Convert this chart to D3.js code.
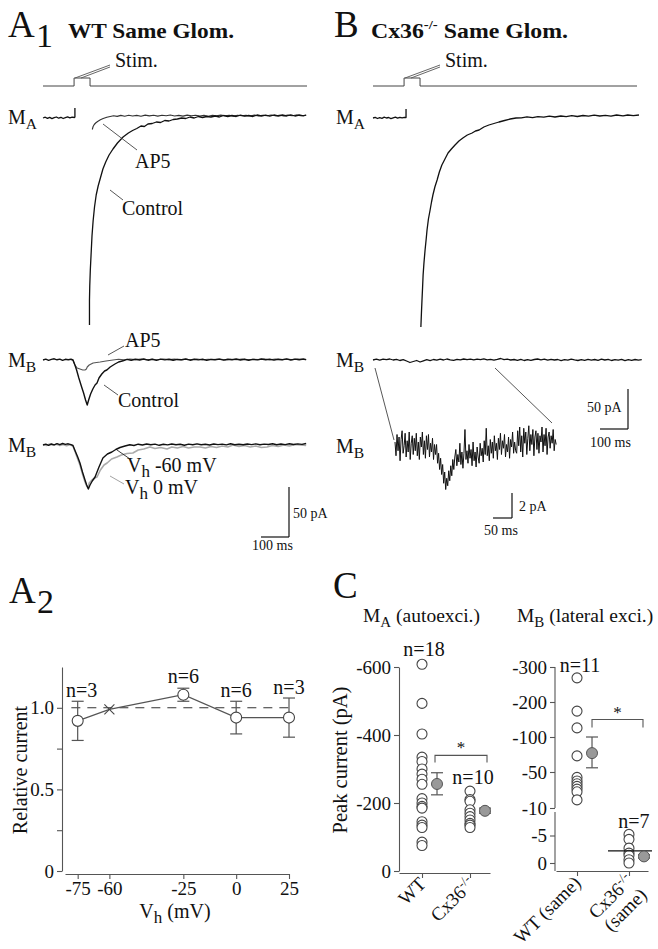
<!DOCTYPE html>
<html><head><meta charset="utf-8">
<script src="https://cdn.jsdelivr.net/npm/d3@7"></script>
<style>
html,body{margin:0;padding:0;background:#fff;}
svg{display:block;}
text{font-family:"Liberation Serif","Times New Roman",serif;fill:#111;}
</style></head>
<body>
<svg id="fig" width="658" height="949"></svg>
<script>
// ================= DATA =================
// Stimulus timing (ms, on/off)
const stimTrace = [[0,0],[111,0],[111,1],[168,1],[168,0],[943,0]];

// A1 M_A traces (ms, pA)
const a1MaPre = [[0,0],[8,0.8],[16,-0.4],[24,0.6],[32,-0.6],[40,0.3],[48,1],[56,-0.2],[64,0.7],[72,-0.5],[80,0.4],[88,1.1],[96,0.2],[104,0.9],[112,0.5],[114,1],[114,10]];
const a1MaControl = [[166,-207],[166,-182],[167,-168],[169,-152],[172,-135],[175,-118],[179,-103],[184,-89],[190,-77],[197,-68],[205,-60],[214,-51],[224,-44],[236,-37],[250,-31],[266,-25],[286,-19],[305,-15],[320,-12.5],[335,-10.5],[350,-8],[362,-8.5],[375,-6],[390,-5.5],[405,-4],[420,-4.5],[435,-2.5],[450,-3],[465,-1.5],[480,-1],[495,0],[510,-0.5],[525,1],[540,0],[555,1.5],[570,0.5],[585,1.5],[600,1],[615,2],[630,1],[645,2.5],[660,1.5],[675,2.5],[690,1.5],[705,2.8],[720,1.8],[735,2.5],[750,1.5],[765,3],[780,2],[795,2.8],[810,1.8],[825,3],[840,2],[855,3],[870,2],[885,3.2],[900,2],[915,3],[930,2.2],[940,3]];
const a1MaAP5 = [[176,-11.5],[179,-8.5],[183,-6.5],[188,-5],[195,-3.5],[205,-1.8],[215,-0.5],[228,0.8],[240,1.5],[252,2.2],[265,1.6],[278,2.6],[292,1.8],[306,2.8],[320,2],[335,2.6],[350,1.8],[365,2.9],[380,2.1],[395,2.7],[410,1.9],[425,2.8],[440,2.2],[455,3],[470,2],[485,2.6],[500,1.9],[515,2.9],[530,2.2],[545,2.8],[560,2],[575,2.6],[590,1.8],[605,2.7],[620,2.1],[635,2.9],[650,2.2],[665,2.7],[680,1.9],[695,2.8],[710,2.2],[725,2.6],[740,2],[755,2.9],[770,2.1],[785,2.7],[800,2.3],[815,3],[830,2.2],[845,2.8],[860,2.1],[875,2.9],[890,2.3],[905,3],[920,2.2],[940,2.8]];

// A1 M_B traces (ms, pA)
const a1MbControl = [[0,0],[10,0.8],[20,-0.3],[30,0.6],[40,1.2],[50,0.2],[60,0.9],[70,-0.4],[80,0.7],[90,0.3],[100,0.8],[107,0],[114,-5],[120,-10],[128,-18],[138,-27],[145,-33],[152,-40],[158,-45],[163,-40],[170,-34],[178,-29],[186,-25],[193,-23],[200,-18],[210,-14],[220,-11],[228,-10],[240,-7],[257,-4],[270,-2],[286,-0.8],[300,0.6],[315,-0.3],[330,0.8],[345,0],[360,1],[375,-0.2],[390,0.7],[405,-0.4],[420,0.9],[435,0.1],[450,0.8],[465,-0.3],[480,0.6],[495,0.2],[510,1],[525,-0.2],[540,0.8],[555,0.1],[570,0.7],[585,-0.4],[600,0.6],[615,0.2],[630,0.9],[645,-0.1],[660,0.7],[675,0.3],[690,1],[705,0],[720,0.8],[735,-0.2],[750,0.6],[765,0.1],[780,1],[795,0.3],[810,0.8],[825,-0.1],[840,0.7],[855,0.2],[870,1.1],[885,0],[900,0.9],[915,0.3],[930,1],[940,0.4]];
const a1MbAP5 = [[100,0.3],[107,0],[114,-5],[122,-8],[132,-9],[142,-10],[150,-10],[155,-9],[158,-7],[165,-5],[179,-3],[204,-2],[225,-1],[250,0],[270,0.8],[290,0.2],[310,1],[330,0.4],[350,0.9],[370,0.2],[390,0.8],[410,0.3],[430,1],[450,0.4],[470,0.9],[490,0.1],[510,0.8],[530,0.3],[550,1],[570,0.2],[590,0.7],[610,0.4],[630,1],[650,0.1],[670,0.8],[690,0.3],[710,0.9],[730,0.2],[750,0.8],[770,0.4],[790,1],[810,0.2],[830,0.9],[850,0.3],[870,0.8],[890,0.4],[910,1],[940,0.3]];

// A1 M_B at two holding potentials (ms, pA)
const a1MbVh60 = [[0,0],[10,0.8],[20,-0.4],[30,1],[40,0.2],[50,1.3],[60,0.3],[70,1.5],[80,0.6],[90,1.2],[100,0.4],[107,-0.5],[115,-6],[124,-12],[132,-18],[141,-27],[150,-35],[156,-40],[162,-44],[168,-40],[176,-36],[186,-32],[200,-22],[214,-13],[230,-9],[246,-7],[260,-4.5],[275,-2.5],[293,-1],[310,0.3],[325,-0.5],[340,0.8],[355,0],[370,1],[385,0.2],[400,0.9],[415,-0.3],[430,0.7],[445,0.1],[460,1],[475,0.3],[490,0.8],[505,-0.2],[520,0.9],[535,0.2],[550,1.1],[565,0.3],[580,0.8],[595,0],[610,1],[625,0.4],[640,0.9],[655,0.1],[670,1.2],[685,0.3],[700,0.8],[715,0.2],[730,1],[745,0.4],[760,1.1],[775,0.2],[790,0.9],[805,0.5],[820,1.2],[835,0.3],[850,1],[865,0.4],[880,1.3],[895,0.5],[910,1.1],[925,0.6],[940,1.5]];
const a1MbVh0 = [[0,0.5],[12,-0.5],[24,1],[36,-0.3],[48,0.8],[60,-0.5],[72,0.6],[84,-0.8],[96,0.3],[107,-1],[115,-7],[124,-14],[132,-20],[141,-29],[150,-37],[156,-41],[161,-43],[165,-38],[175,-35],[185,-33],[193,-32],[205,-25],[218,-20],[229,-18],[245,-14],[264,-12],[280,-10],[300,-8.5],[321,-8],[340,-5],[360,-4],[382,-2],[400,-3.5],[420,-2.5],[443,-4],[460,-2],[480,-3],[500,-1.5],[520,-3],[540,-2],[561,-2],[580,-3],[600,-1.5],[620,-2.5],[640,-1],[660,-2],[679,0],[700,-1.5],[720,-0.5],[740,-2],[760,-1],[780,-2.5],[800,-2],[820,-0.5],[840,-1.5],[860,0],[880,-1],[900,0.5],[918,0],[940,-0.5]];

// B traces (ms, pA)
const bMaPre = [[0,0],[8,0.6],[16,-0.5],[24,0.4],[32,-0.3],[40,0.8],[48,0],[56,0.5],[64,-0.6],[72,0.2],[80,0.9],[88,-0.1],[96,0.6],[104,0.1],[112,0.7],[118,0.5],[118,9]];
const bMa = [[171,-209],[173,-195],[175,-182],[177,-170],[179,-157],[182,-145],[186,-132],[190,-121],[193,-112],[198,-101],[204,-92],[209,-84],[214,-77],[221,-69],[229,-62],[237,-54],[246,-47],[257,-41],[268,-35],[280,-31],[293,-27],[307,-23],[321,-20],[337,-17],[354,-15],[366,-13],[379,-12],[396,-9],[414,-7],[432,-5.5],[450,-4],[470,-2.5],[490,-1],[511,0],[530,0.2],[550,1.2],[570,0.4],[589,1.3],[610,0.8],[630,1.8],[650,1],[671,2],[690,1.4],[710,2.4],[730,1.5],[750,2.5],[770,1.8],[790,2.8],[810,2],[830,2.6],[850,1.9],[870,3],[893,2.2],[910,3],[930,2.4],[950,3]];
const bMb = [[0,0],[12,0.8],[24,-0.2],[36,0.9],[48,0.3],[60,1],[72,0],[84,0.6],[96,-0.5],[108,0.4],[120,-1],[132,-2.5],[144,-1.5],[156,-0.5],[168,-2],[180,-0.8],[192,0.3],[204,-0.6],[216,0.5],[228,-0.2],[240,0.8],[252,0],[264,1],[276,0.2],[288,-0.4],[300,0.7],[312,0.1],[324,1],[336,0.3],[348,0.8],[360,0.1],[372,0.9],[384,0.4],[396,1.2],[408,0.2],[420,0.7],[432,-0.1],[444,0.6],[456,1.5],[468,0.3],[480,0.8],[492,0],[504,0.5],[516,-0.4],[528,0.6],[540,-0.5],[552,0.4],[564,-0.3],[576,0.5],[588,1],[600,0.2],[612,0.8],[624,-0.2],[636,0.7],[648,0],[660,0.5],[672,-0.6],[684,0.4],[696,-0.2],[708,0.8],[720,0.1],[732,-0.5],[744,0.3],[756,-0.4],[768,0.6],[780,-0.2],[792,0.5],[804,-0.3],[816,0.8],[828,0],[840,0.6],[852,-0.5],[864,0.3],[876,-0.2],[888,0.7],[900,-0.6],[912,0.4],[924,-0.3],[936,0.5],[948,-0.1],[960,0.3]];
// B inset, magnified M_B (pA), sampled every 2.67 ms
const insetDt = 2.67;
const bInset = [0.4,-0.7,1.0,-0.3,0.8,-1.1,0.6,1.3,-0.5,0.1,1.1,-0.8,0.5,-0.4,1.2,-1.0,0.3,0.9,-0.6,0.7,
 -0.3,1.1,-0.7,0.4,-1.0,0.8,0.0,1.2,-0.6,0.5,-0.9,0.9,-0.2,1.0,-0.8,0.3,-0.4,0.7,-1.0,0.2,
 -0.6,0.2,-1.3,-0.5,-1.8,-0.9,-2.2,-1.4,-2.9,-2.0,-3.4,-2.5,-3.1,-1.9,-2.7,-1.5,-2.3,-1.0,-1.8,-0.8,
 -0.2,-1.5,-0.6,-1.2,0.3,-1.4,-0.4,-1.7,-0.5,1.4,-1.0,-0.3,-1.3,0.2,-0.9,-0.2,-1.5,0.4,-1.1,-0.4,
 -1.6,0.0,-0.8,-1.3,0.3,-0.7,-0.1,-1.2,0.5,-0.6,
 1.5,-0.7,0.1,-1.1,0.6,-0.5,0.4,-0.9,0.9,-0.3,0.3,-1.0,0.7,-0.2,1.1,-0.6,0.5,-0.1,1.0,-0.8,
 0.2,-0.4,0.8,-0.9,0.6,0.0,1.2,-0.5,0.4,-0.3,
 -0.5,1.3,0.1,1.6,-0.4,0.9,-0.8,1.5,0.3,1.2,-0.6,0.7,1.7,-0.3,1.0,0.2,1.4,-0.7,0.8,1.3,
 -0.2,1.1,-0.5,0.9,0.4,1.6,-0.4,1.0,0.1,1.5,-0.6,0.8,1.2,-0.1,0.9,0.3,1.4,-0.3,0.6,0.2];

// A2: relative current vs holding potential
const vhTicks = [-75,-60,-25,0,25];
const relTicks = [0,0.25,0.5,0.75,1.0];
const vhValues = [-75,-25,0,25];
const relMean = [0.92,1.08,0.94,0.94];
const relLow = [0.80,1.04,0.84,0.82];
const relHigh = [1.04,1.12,1.04,1.06];
const relN = ["n=3","n=6","n=6","n=3"];
const relCross = [-60,0.99];

// C left: M_A autoexcitation peak current (pA)
const groupsAuto = ["WT","Cx36"];
const autoWT = [-608,-493,-403,-335,-322,-300,-285,-270,-255,-213,-200,-190,-185,-145,-135,-128,-85,-75];
const autoCx = [-235,-210,-205,-180,-170,-160,-150,-140,-135,-128];
const autoMean = [-256,-177];
const autoErr = [[-224,-289],[-170,-185]];
const autoN = ["n=18","n=10"];
const autoTicks = [0,-200,-400,-600];

// C right: M_B lateral excitation peak current (pA)
const groupsLat = ["WTs","Cx36s"];
const latWT = [-269,-174,-126,-73,-44,-40,-37,-34,-31,-28,-19];
const latCx = [-5.2,-4.3,-2.7,-1.8,-1.4,-0.6,0];
const latMean = [-77,-1.2];
const latErr = [[-56,-100],[-0.9,-1.5]];
const latCxMedian = -2.2;
const latN = ["n=11","n=7"];
const latTicks = [0,-5,-10,-50,-100,-200,-300];
const latBreaks = [0,-10,-50,-100,-200,-300];

// ================= DRAW =================
const svg = d3.select("#fig");
const FONT = '"Liberation Serif","Times New Roman",serif';

function txt(x,y,s,size,opt={}){
  const t = svg.append("text").attr("x",x).attr("y",y).attr("font-size",size)
    .attr("font-family",FONT).attr("fill",opt.fill||"#111");
  if(opt.anchor) t.attr("text-anchor",opt.anchor);
  if(opt.weight) t.attr("font-weight",opt.weight);
  if(s) t.text(s);
  return t;
}
function seg(x1,y1,x2,y2,color="#333",w=1){
  svg.append("line").attr("x1",x1).attr("y1",y1).attr("x2",x2).attr("y2",y2)
    .attr("stroke",color).attr("stroke-width",w);
}
function drawTrace(data,xs,ys,color="#111",w=1.3){
  const line = d3.line().x(d=>xs(d[0])).y(d=>ys(d[1]));
  svg.append("path").attr("d",line(data)).attr("fill","none")
    .attr("stroke",color).attr("stroke-width",w).attr("stroke-linejoin","round");
}
function mLabel(x,y,sub,size=20){
  const t = txt(x,y,"",size);
  t.append("tspan").text("M");
  t.append("tspan").attr("dy",5).attr("font-size",size*0.78).text(sub);
}
function styleAxis(g,size=19){
  g.attr("font-family",null).attr("font-size",null);
  g.selectAll("path,line").attr("stroke","#555").attr("stroke-width",1.1);
  g.selectAll("text").attr("font-family",FONT).attr("font-size",size).attr("fill","#111");
}

// ---- time / current scales for traces
const tA = d3.scaleLinear().domain([0,943]).range([43,307]);
const tB = d3.scaleLinear().domain([0,943]).range([373,637]);
const cur = base => d3.scaleLinear().domain([0,-100]).range([base,base+100]);
const stimY = d3.scaleLinear().domain([0,1]).range([86,78]);

// ---- Titles
txt(8,37,"A",37);
txt(36,47,"1",34);
txt(68,38,"WT Same Glom.",21,{weight:"bold"}).attr("textLength",166).attr("lengthAdjust","spacingAndGlyphs");
txt(334,37,"B",37);
{
  const t = txt(371,38,"",21,{weight:"bold"}).attr("textLength",197).attr("lengthAdjust","spacingAndGlyphs");
  t.append("tspan").text("Cx36");
  t.append("tspan").attr("font-size",13).attr("dy",-9).text("-/-");
  t.append("tspan").attr("dy",9).text(" Same Glom.");
}

// ---- Stim traces
drawTrace(stimTrace,tA,stimY,"#444",1);
drawTrace(stimTrace,tB,stimY,"#444",1);
txt(115,67,"Stim.",20);
txt(445,67,"Stim.",20);
seg(75,78,110,65,"#555",0.9); seg(81,78,110,67,"#555",0.9);
seg(405,78,440,65,"#555",0.9); seg(411,78,440,67,"#555",0.9);

// ---- A1 M_A
const yMaA = cur(118);
mLabel(8,124,"A");
drawTrace(a1MaPre,tA,yMaA);
drawTrace(a1MaAP5,tA,yMaA,"#333",1.1);
drawTrace(a1MaControl,tA,yMaA,"#111",1.3);
txt(135,168,"AP5",20);
seg(103,124,137,150,"#444",0.9);
txt(122,215,"Control",20);
seg(110,190,123,200,"#444",0.9);

// ---- A1 M_B
const yMbA = cur(360);
mLabel(8,367,"B");
drawTrace(a1MbAP5,tA,yMbA,"#555",1.1);
drawTrace(a1MbControl,tA,yMbA,"#111",1.4);
txt(125,347,"AP5",20);
seg(108,355,124,346,"#444",0.9);
txt(118,407,"Control",20);
seg(104,385,118,395,"#444",0.9);

// ---- A1 M_B Vh
const yMb2 = cur(445);
mLabel(8,452,"B");
drawTrace(a1MbVh0,tA,yMb2,"#aaa",1.6);
drawTrace(a1MbVh60,tA,yMb2,"#111",1.4);
{
  const t = txt(127,472,"",20);
  t.append("tspan").text("V");
  t.append("tspan").attr("dy",5).attr("font-size",17).text("h");
  t.append("tspan").attr("dy",-5).text(" -60 mV");
  const t2 = txt(125,494,"",20);
  t2.append("tspan").text("V");
  t2.append("tspan").attr("dy",5).attr("font-size",17).text("h");
  t2.append("tspan").attr("dy",-5).text(" 0 mV");
}
seg(117,450,130,459,"#222",0.9);
seg(110,476,124,484,"#999",0.9);

// A1 scale bar: 100 ms x 50 pA
{
  const x1 = 289, y1 = 537;
  const w = tA(100)-tA(0), h = yMaA(-50)-yMaA(0);
  seg(x1-w,y1,x1,y1,"#111",1.2); seg(x1,y1,x1,y1-h,"#111",1.2);
  txt(293,518,"50 pA",14);
  txt(x1-w-9,550,"100 ms",14);
}

// ---- B M_A
const yMaB = cur(118);
mLabel(336,124,"A");
drawTrace(bMaPre,tB,yMaB);
drawTrace(bMa,tB,yMaB,"#111",1.3);

// ---- B M_B
const yMbB = cur(360);
mLabel(336,367,"B");
drawTrace(bMb,tB,yMbB,"#111",1.3);

// scale bar B
{
  const x1 = 628, y1 = 429;
  const w = tB(100)-tB(0), h = yMbB(-40)-yMbB(0);
  seg(x1-w,y1,x1,y1,"#111",1.2); seg(x1,y1,x1,y1-h,"#111",1.2);
  txt(587,412,"50 pA",14);
  txt(590,447,"100 ms",14);
}

// ---- B inset
const tIn = d3.scaleLinear().domain([0,424]).range([395,556]);
const yIn = d3.scaleLinear().domain([0,-2]).range([447,472]);
mLabel(336,453,"B");
drawTrace(bInset.map((v,i)=>[i*insetDt,v]),tIn,yIn,"#111",1);
seg(375,368,394,440,"#444",0.9);
seg(495,368,552,423,"#444",0.9);
{
  const x1 = 512, y1 = 518;
  const w = tIn(50)-tIn(0), h = yIn(-2)-yIn(0);
  seg(x1-w,y1,x1,y1,"#111",1.2); seg(x1,y1,x1,y1-h,"#111",1.2);
  txt(519,511,"2 pA",14);
  txt(484,535,"50 ms",14);
}

// ================= A2 =================
txt(9,603,"A",37);
txt(37,613,"2",34);
const xA2 = d3.scaleLinear().domain([-81,25]).range([65,289]);
const yA2 = d3.scaleLinear().domain([0,1.25]).range([871,667]);
{
  const gy = svg.append("g").attr("transform","translate(62,0)")
    .call(d3.axisLeft(yA2).tickValues(relTicks).tickSize(5).tickSizeOuter(0)
      .tickFormat(d=> d===0?"0": (d===0.5||d===1)? d.toFixed(1):""));
  styleAxis(gy);
  const gx = svg.append("g").attr("transform","translate(0,874)")
    .call(d3.axisBottom(xA2).tickValues(vhTicks).tickSize(5).tickSizeOuter(0)
      .tickFormat(d=>String(d)));
  styleAxis(gx);
  svg.append("line").attr("x1",xA2(-78)).attr("x2",xA2(25)).attr("y1",yA2(1)).attr("y2",yA2(1))
    .attr("stroke","#333").attr("stroke-width",1.1).attr("stroke-dasharray","9,7");
  const pts = [[vhValues[0],relMean[0]],relCross,...vhValues.slice(1).map((v,i)=>[v,relMean[i+1]])];
  svg.append("path").attr("d",d3.line().x(d=>xA2(d[0])).y(d=>yA2(d[1]))(pts))
    .attr("fill","none").attr("stroke","#555").attr("stroke-width",1.2);
  vhValues.forEach((v,i)=>{
    const x = xA2(v);
    seg(x,yA2(relLow[i]),x,yA2(relHigh[i]),"#555",1.2);
    seg(x-6,yA2(relLow[i]),x+6,yA2(relLow[i]),"#555",1.2);
    seg(x-6,yA2(relHigh[i]),x+6,yA2(relHigh[i]),"#555",1.2);
  });
  svg.selectAll(".a2pt").data(vhValues).enter().append("circle")
    .attr("cx",d=>xA2(d)).attr("cy",(d,i)=>yA2(relMean[i])).attr("r",5.5)
    .attr("fill","#fff").attr("stroke","#444").attr("stroke-width",1.1);
  const cx = xA2(relCross[0]), cy = yA2(relCross[1]);
  seg(cx-5,cy-5,cx+5,cy+5,"#444",1.1); seg(cx-5,cy+5,cx+5,cy-5,"#444",1.1);
  const nOff = [4,0,0,0];
  vhValues.forEach((v,i)=>{
    txt(xA2(v)+nOff[i], Math.min(yA2(relHigh[i]),yA2(relMean[i])) - 4 + (i===1?-1:0) , relN[i],20,{anchor:"middle"});
  });
  txt(0,0,"Relative current",20,{anchor:"middle"}).attr("transform","translate(27,770) rotate(-90)");
  const vx = txt(175,918,"",20,{anchor:"middle"});
  vx.append("tspan").text("V");
  vx.append("tspan").attr("dy",5).attr("font-size",17).text("h");
  vx.append("tspan").attr("dy",-5).text(" (mV)");
}

// ================= C =================
txt(333,598,"C",37);
{
  const t = txt(363,622,"",19.5);
  t.append("tspan").text("M");
  t.append("tspan").attr("dy",5).attr("font-size",15).text("A");
  t.append("tspan").attr("dy",-5).text(" (autoexci.)");
  const t2 = txt(517,622,"",19.5);
  t2.append("tspan").text("M");
  t2.append("tspan").attr("dy",5).attr("font-size",15).text("B");
  t2.append("tspan").attr("dy",-5).text(" (lateral exci.)");
}
txt(0,0,"Peak current (pA)",20.5,{anchor:"middle"}).attr("transform","translate(347,760) rotate(-90)");

// left plot
const xC1 = d3.scalePoint().domain(groupsAuto).range([399,490]).padding(0.448).align(0.535);
const yC1 = d3.scaleLinear().domain([0,-600]).range([871,667]);
{
  const gy = svg.append("g").attr("transform","translate(399,0)")
    .call(d3.axisLeft(yC1).tickValues(autoTicks).tickSize(5).tickSizeOuter(0).tickFormat(d=>String(d)));
  styleAxis(gy);
  const gx = svg.append("g").attr("transform","translate(0,873)")
    .call(d3.axisBottom(xC1).tickSize(5).tickSizeOuter(0).tickFormat(""));
  styleAxis(gx);
  [autoWT,autoCx].forEach((arr,gi)=>{
    svg.selectAll(null).data(arr).enter().append("circle")
      .attr("cx",xC1(groupsAuto[gi])).attr("cy",d=>yC1(d)).attr("r",5)
      .attr("fill","#fff").attr("stroke","#444").attr("stroke-width",1.1);
  });
  autoMean.forEach((m,gi)=>{
    const x = xC1(groupsAuto[gi])+15;
    const [lo,hi] = autoErr[gi];
    seg(x,yC1(lo),x,yC1(hi),"#555",1.2);
    seg(x-6,yC1(lo),x+6,yC1(lo),"#555",1.2);
    seg(x-6,yC1(hi),x+6,yC1(hi),"#555",1.2);
    svg.append("circle").attr("cx",x).attr("cy",yC1(m)).attr("r",5.5)
      .attr("fill","#999").attr("stroke","#555").attr("stroke-width",1);
  });
  const bx1 = xC1("WT")+13, bx2 = xC1("Cx36")+17, by = yC1(-340);
  svg.append("path").attr("d",`M${bx1},${by+7}V${by}H${bx2}V${by+7}`).attr("fill","none").attr("stroke","#555").attr("stroke-width",1.1);
  txt((bx1+bx2)/2,by-2,"*",17,{anchor:"middle"});
  txt(xC1("WT")+2,656,autoN[0],20,{anchor:"middle"});
  txt(xC1("Cx36")+3,784,autoN[1],20,{anchor:"middle"});
  txt(0,0,"WT",19,{anchor:"end"}).attr("transform",`translate(${xC1("WT")+5},885) rotate(-45)`);
  const cl = txt(0,0,"",19,{anchor:"end"}).attr("transform",`translate(${xC1("Cx36")+6},885) rotate(-45)`);
  cl.append("tspan").text("Cx36");
  cl.append("tspan").attr("font-size",13).attr("dy",-7).text("-/-");
}

// right plot
const xC2 = d3.scalePoint().domain(groupsLat).range([556,648]).padding(0.385).align(0.525);
const yC2 = d3.scaleLinear().domain(latBreaks).range([863,808,772,737,702,667]);
{
  const gy = svg.append("g").attr("transform","translate(555,0)")
    .call(d3.axisLeft(yC2).tickValues(latTicks).tickSize(5).tickSizeOuter(0).tickFormat(d=>String(d)));
  gy.select(".domain").remove();
  styleAxis(gy);
  seg(555,yC2(-300),555,yC2(-10),"#555",1.1);
  seg(555,yC2(-10)+4,555,871,"#555",1.1);
  const gx = svg.append("g").attr("transform","translate(0,871)")
    .call(d3.axisBottom(xC2).tickSize(5).tickSizeOuter(0).tickFormat(""));
  styleAxis(gx);
  [latWT,latCx].forEach((arr,gi)=>{
    svg.selectAll(null).data(arr).enter().append("circle")
      .attr("cx",xC2(groupsLat[gi])).attr("cy",d=>yC2(d)).attr("r",5)
      .attr("fill","#fff").attr("stroke","#444").attr("stroke-width",1.1);
  });
  seg(xC2("Cx36s")-21,yC2(latCxMedian),xC2("Cx36s")+23,yC2(latCxMedian),"#111",1.2);
  latMean.forEach((m,gi)=>{
    const x = xC2(groupsLat[gi])+15;
    const [lo,hi] = latErr[gi];
    seg(x,yC2(lo),x,yC2(hi),"#555",1.2);
    seg(x-6,yC2(lo),x+6,yC2(lo),"#555",1.2);
    seg(x-6,yC2(hi),x+6,yC2(hi),"#555",1.2);
    svg.append("circle").attr("cx",x).attr("cy",yC2(m)).attr("r",5.5)
      .attr("fill","#999").attr("stroke","#555").attr("stroke-width",1);
  });
  const bx1 = xC2("WTs")+15, bx2 = xC2("Cx36s")+14, by = yC2(-150);
  svg.append("path").attr("d",`M${bx1},${by+8}V${by}H${bx2}V${by+8}`).attr("fill","none").attr("stroke","#555").attr("stroke-width",1.1);
  txt((bx1+bx2)/2,by-2,"*",17,{anchor:"middle"});
  txt(xC2("WTs")+3,672,latN[0],20,{anchor:"middle"});
  txt(xC2("Cx36s")+5,828,latN[1],20,{anchor:"middle"});
  txt(0,0,"WT (same)",19,{anchor:"end"}).attr("transform",`translate(${xC2("WTs")+5},884) rotate(-45)`);
  const cl = txt(0,0,"",19,{anchor:"end"}).attr("transform",`translate(${xC2("Cx36s")+5},882) rotate(-45)`);
  cl.append("tspan").text("Cx36");
  cl.append("tspan").attr("font-size",13).attr("dy",-7).text("-/-");
  txt(0,0,"(same)",19,{anchor:"end"}).attr("transform",`translate(${xC2("Cx36s")+19},896) rotate(-45)`);
}
</script>
</body></html>
